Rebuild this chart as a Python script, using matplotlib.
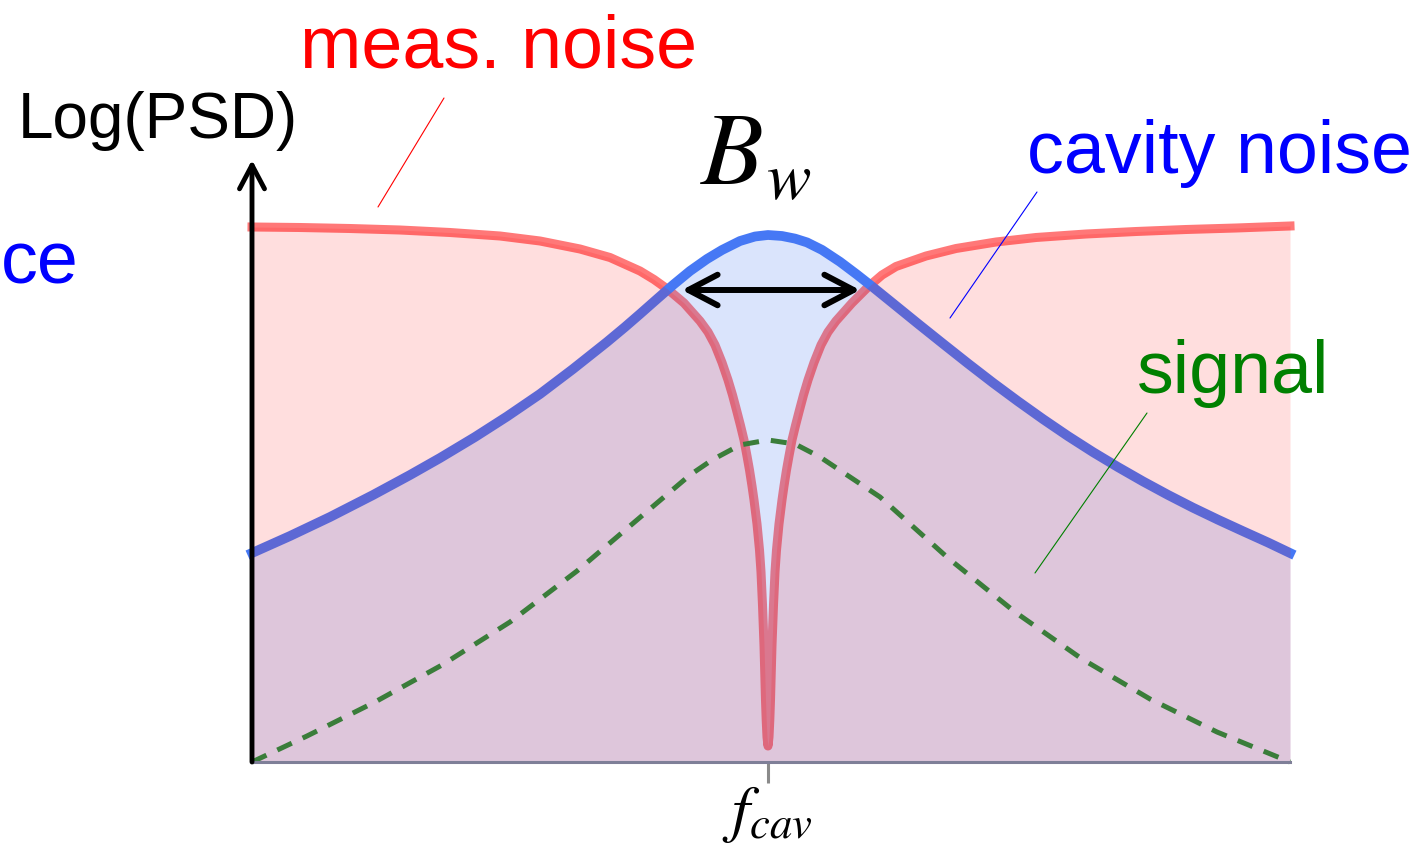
import matplotlib
matplotlib.use('Agg')
import matplotlib.pyplot as plt

plt.rcParams['font.family'] = ['Liberation Sans', 'DejaVu Sans']
plt.rcParams['mathtext.fontset'] = 'stix'

# detuning from f_cav (arb. units) and log PSD (arb. units)
meas_x = [-5.16, -4.68, -4.18, -3.68, -3.18, -2.68, -2.28, -1.88, -1.58, -1.28,
          -1.14, -1.00, -0.84, -0.68, -0.60, -0.53, -0.46, -0.40, -0.355, -0.315,
          -0.275, -0.24, -0.21, -0.185, -0.16, -0.14, -0.11, -0.085, -0.07, -0.055,
          -0.04, -0.032, -0.025, -0.018, -0.01, 0.0,
          0.01, 0.018, 0.025, 0.032, 0.04, 0.055, 0.07, 0.085, 0.11, 0.14,
          0.16, 0.185, 0.21, 0.24, 0.275, 0.315, 0.355, 0.40, 0.46, 0.53,
          0.60, 0.68, 0.84, 1.00, 1.14, 1.28, 1.58, 1.88, 2.28, 2.68,
          3.18, 3.68, 4.18, 4.68, 5.22]
meas_y = [5.35, 5.345, 5.335, 5.32, 5.295, 5.26, 5.21, 5.13, 5.045, 4.91,
          4.825, 4.725, 4.59, 4.41, 4.30, 4.17, 3.995, 3.82, 3.67, 3.52,
          3.365, 3.22, 3.06, 2.92, 2.76, 2.62, 2.38, 2.12, 1.90, 1.57,
          1.17, 0.88, 0.62, 0.42, 0.25, 0.16,
          0.25, 0.42, 0.62, 0.88, 1.17, 1.57, 1.90, 2.12, 2.38, 2.62,
          2.76, 2.92, 3.06, 3.22, 3.365, 3.52, 3.67, 3.82, 3.995, 4.17,
          4.30, 4.41, 4.59, 4.75, 4.87, 4.955, 5.06, 5.135, 5.20, 5.245,
          5.28, 5.305, 5.325, 5.34, 5.36]

cav_x = [-5.16, -4.78, -4.38, -3.95, -3.58, -3.28, -2.93, -2.61, -2.28, -1.95,
         -1.61, -1.43, -1.28, -1.11, -0.95, -0.78, -0.61, -0.46, -0.28, -0.13,
         0.00, 0.14, 0.27, 0.39, 0.54, 0.72, 0.89, 1.05, 1.25, 1.50,
         1.75, 2.00, 2.25, 2.50, 2.75, 3.00, 3.25, 3.50, 3.75, 4.00,
         4.25, 4.50, 4.75, 5.00, 5.22]
cav_y = [2.09, 2.26, 2.45, 2.67, 2.87, 3.04, 3.25, 3.455, 3.68, 3.93,
         4.20, 4.35, 4.48, 4.63, 4.77, 4.91, 5.03, 5.12, 5.21, 5.255,
         5.27, 5.26, 5.234, 5.196, 5.121, 5.002, 4.874, 4.748, 4.586, 4.383,
         4.183, 3.985, 3.792, 3.607, 3.429, 3.259, 3.099, 2.949, 2.806, 2.671,
         2.543, 2.423, 2.308, 2.195, 2.09]

sig_x = [-5.16, -4.61, -3.93, -3.26, -2.58, -1.91, -1.24, -0.78, -0.56, -0.28,
         0.00, 0.27, 0.52, 0.82, 1.12, 1.80, 2.47, 3.14, 3.82, 4.49, 5.22]
sig_y = [0.00, 0.26, 0.60, 0.97, 1.40, 1.91, 2.48, 2.87, 3.02, 3.17,
         3.22, 3.18, 3.05, 2.85, 2.65, 2.04, 1.50, 1.03, 0.63, 0.30, 0.00]

# band where the cavity noise rises above the measurement noise
bw_lo, bw_hi, bw_level = -0.86, 0.92, 4.72
f_cav = 0.0

fig = plt.figure(figsize=(14.24, 8.5), dpi=100)
ax = fig.add_axes([252 / 1424, 88 / 850, 1038 / 1424, 602 / 850])
ax.set_xlim(-5.16, 5.22)
ax.set_ylim(0, 6.02)

# curves first, translucent fills on top so the overlaps mix
ax.plot(meas_x, meas_y, color='#ff7878', lw=6.5, solid_joinstyle='round',
        zorder=1, clip_on=False)
ax.plot(cav_x, cav_y, color='#4678f5', lw=7, solid_joinstyle='round',
        zorder=1, clip_on=False)
ax.fill_between(cav_x, 0, cav_y, color=(70/255, 120/255, 240/255), alpha=0.2,
                lw=0, zorder=2)
ax.fill_between(meas_x, 0, meas_y, color='red', alpha=0.13, lw=0, zorder=3)
ax.plot(sig_x, sig_y, color='#3a7d3a', lw=3.6, ls=(0, (3.2, 2.4)), zorder=4,
        clip_on=False)

# B_w double arrow
ax.annotate('', xy=(bw_lo, bw_level), xytext=(bw_hi, bw_level),
            arrowprops=dict(arrowstyle='<->,head_length=1.05,head_width=0.55',
                            lw=4.3, color='black', mutation_scale=20,
                            shrinkA=0, shrinkB=0, capstyle='round',
                            joinstyle='round'),
            zorder=5)

# y axis arrow
ax.annotate('', xy=(-5.16, 6.02), xytext=(-5.16, 0),
            arrowprops=dict(arrowstyle='->,head_length=0.85,head_width=0.45',
                            lw=3.5, color='black', mutation_scale=20,
                            shrinkA=0, shrinkB=0, capstyle='round',
                            joinstyle='round'),
            zorder=6)

for side in ['left', 'top', 'right']:
    ax.spines[side].set_visible(False)
ax.spines['bottom'].set_color('#7f7f98')
ax.spines['bottom'].set_linewidth(2.2)
ax.spines['bottom'].set_zorder(5)
ax.set_yticks([])
ax.set_xticks([f_cav])
ax.set_xticklabels([''])
ax.tick_params(axis='x', length=15, width=2.2, color='#8a8a8a')

# leader lines from the labels
ax.annotate('', xy=(-3.90, 5.55), xytext=(-3.24, 6.64),
            arrowprops=dict(arrowstyle='-', color='red', lw=0.8,
                            shrinkA=0, shrinkB=0))
ax.annotate('', xy=(1.82, 4.44), xytext=(2.69, 5.70),
            arrowprops=dict(arrowstyle='-', color='blue', lw=0.8,
                            shrinkA=0, shrinkB=0))
ax.annotate('', xy=(2.67, 1.89), xytext=(3.79, 3.49),
            arrowprops=dict(arrowstyle='-', color='green', lw=0.8,
                            shrinkA=0, shrinkB=0))

fig.text(300 / 1424, 1 - 67 / 850, 'meas. noise', color='red', fontsize=53,
         va='baseline')
fig.text(18 / 1424, 1 - 138 / 850, 'Log(PSD)', color='black', fontsize=46,
         va='baseline')
fig.text(1 / 1424, 1 - 283 / 850, 'ce', color='blue', fontsize=53,
         va='baseline')
fig.text(1027 / 1424, 1 - 173 / 850, 'cavity noise', color='blue', fontsize=53,
         va='baseline')
fig.text(1137 / 1424, 1 - 393 / 850, 'signal', color='green', fontsize=53,
         va='baseline')

# B_w set as italic symbol plus enlarged subscript
fig.text(700 / 1424, 1 - 184 / 850, r'$B$', color='black', fontsize=74,
         va='baseline')
fig.text(766 / 1424, 1 - 199 / 850, r'$w$', color='black', fontsize=48,
         va='baseline')
fig.text(722 / 1424, 1 - 830 / 850, r'$f_{cav}$', color='black', fontsize=46,
         va='baseline')

fig.savefig('out.png', dpi=100)
